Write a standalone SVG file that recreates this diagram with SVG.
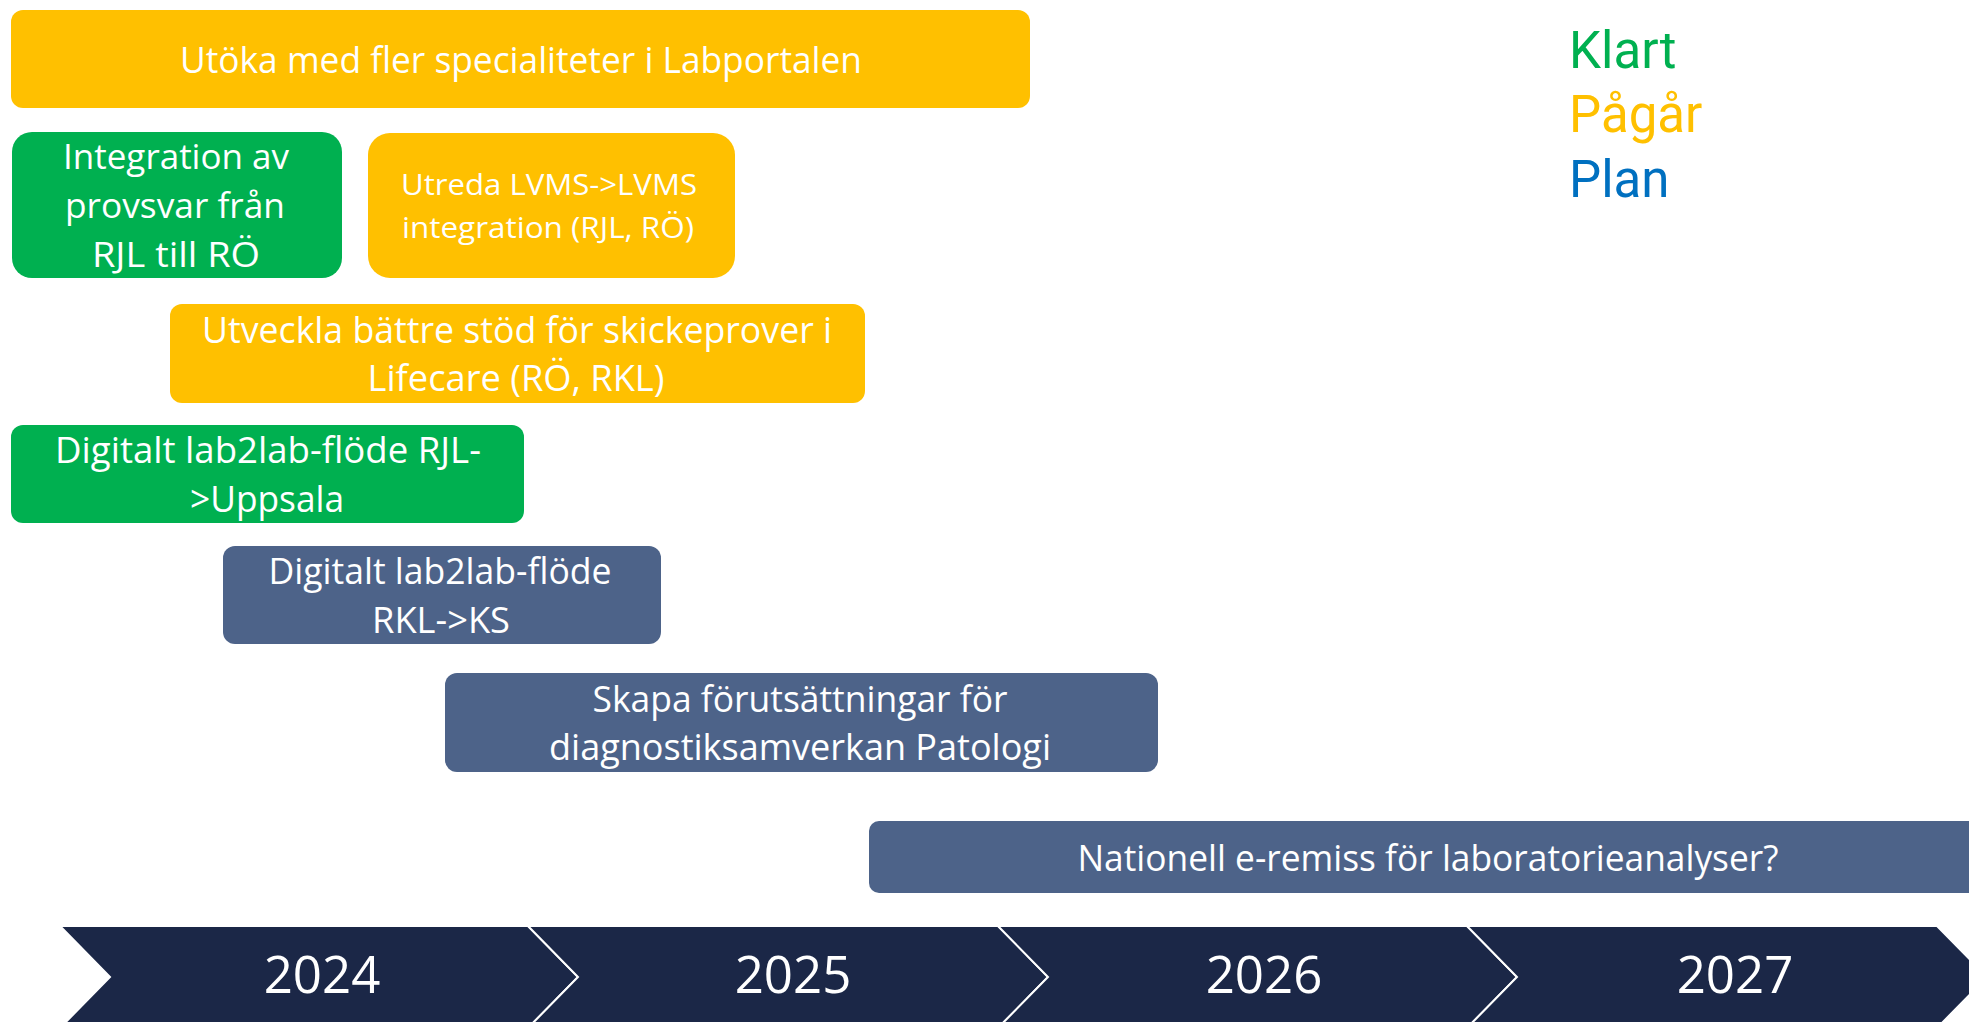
<svg xmlns="http://www.w3.org/2000/svg" width="1969" height="1022" viewBox="0 0 1969 1022">
<style>
.t{font-family:"Open Sans","Noto Sans","Liberation Sans",sans-serif;font-weight:400;fill:#FFFFFF;text-anchor:middle}
.yel{fill:#FFC000}
.grn{fill:#00B050}
.blu{fill:#4D6389}
.chev{fill:#1B2747;stroke:#FFFFFF;stroke-width:2}
.yr{font-family:"Open Sans","Noto Sans","Liberation Sans",sans-serif;font-weight:400;fill:#FFFFFF;text-anchor:middle;font-size:51px}
.lg{font-family:Roboto,"Noto Sans","Liberation Sans",sans-serif;font-size:51px}
</style>
<rect width="1969" height="1022" fill="#FFFFFF"/>

<g id="node-labportalen">
<rect class="yel" x="11" y="10" width="1019" height="98" rx="12"/>
<text class="t" x="521" y="73" font-size="36" textLength="682" lengthAdjust="spacingAndGlyphs">Utöka med fler specialiteter i Labportalen</text>
</g>

<g id="node-integration">
<rect class="grn" x="12" y="132" width="330" height="146" rx="20"/>
<text class="t" x="176" y="169" font-size="35" textLength="226" lengthAdjust="spacingAndGlyphs">Integration av</text>
<text class="t" x="175" y="218" font-size="35" textLength="220" lengthAdjust="spacingAndGlyphs">provsvar från</text>
<text class="t" x="176" y="267" font-size="35" textLength="168" lengthAdjust="spacingAndGlyphs">RJL till RÖ</text>
</g>

<g id="node-utreda">
<rect class="yel" x="368" y="133" width="367" height="145" rx="22"/>
<text class="t" x="549" y="195" font-size="30" textLength="296" lengthAdjust="spacingAndGlyphs">Utreda LVMS-&gt;LVMS</text>
<text class="t" x="548" y="238" font-size="30" textLength="292" lengthAdjust="spacingAndGlyphs">integration (RJL, RÖ)</text>
</g>

<g id="node-skickeprover">
<rect class="yel" x="170" y="304" width="695" height="99" rx="12"/>
<text class="t" x="517" y="343" font-size="36" textLength="630" lengthAdjust="spacingAndGlyphs">Utveckla bättre stöd för skickeprover i</text>
<text class="t" x="516" y="391" font-size="36" textLength="297" lengthAdjust="spacingAndGlyphs">Lifecare (RÖ, RKL)</text>
</g>

<g id="node-lab2lab-uppsala">
<rect class="grn" x="11" y="425" width="513" height="98" rx="12"/>
<text class="t" x="268" y="463" font-size="36" textLength="426" lengthAdjust="spacingAndGlyphs">Digitalt lab2lab-flöde RJL-</text>
<text class="t" x="267" y="512" font-size="36" textLength="154" lengthAdjust="spacingAndGlyphs">&gt;Uppsala</text>
</g>

<g id="node-lab2lab-ks">
<rect class="blu" x="223" y="546" width="438" height="98" rx="12"/>
<text class="t" x="440" y="584" font-size="36" textLength="343" lengthAdjust="spacingAndGlyphs">Digitalt lab2lab-flöde</text>
<text class="t" x="441" y="633" font-size="36" textLength="138" lengthAdjust="spacingAndGlyphs">RKL-&gt;KS</text>
</g>

<g id="node-patologi">
<rect class="blu" x="445" y="673" width="713" height="99" rx="12"/>
<text class="t" x="800" y="712" font-size="36" textLength="415" lengthAdjust="spacingAndGlyphs">Skapa förutsättningar för</text>
<text class="t" x="800" y="760" font-size="36" textLength="502" lengthAdjust="spacingAndGlyphs">diagnostiksamverkan Patologi</text>
</g>

<g id="node-eremiss">
<rect class="blu" x="869" y="821" width="1200" height="72" rx="10"/>
<text class="t" x="1428" y="871" font-size="36" textLength="701" lengthAdjust="spacingAndGlyphs">Nationell e-remiss för laboratorieanalyser?</text>
</g>

<g id="connectors"></g>

<g id="timeline">
<polygon class="chev" points="60,926 528,926 578,977 528,1028 60,1028 110,977"/>
<polygon class="chev" points="528,926 998,926 1048,977 998,1028 528,1028 578,977"/>
<polygon class="chev" points="998,926 1467,926 1517,977 1467,1028 998,1028 1048,977"/>
<polygon class="chev" points="1467,926 1937,926 1987,977 1937,1028 1467,1028 1517,977"/>
<text class="yr" x="322" y="993">2024</text>
<text class="yr" x="793" y="993">2025</text>
<text class="yr" x="1264" y="993">2026</text>
<text class="yr" x="1735" y="993">2027</text>
</g>

<g id="legend">
<text class="lg" x="1569" y="68" fill="#00B050">Klart</text>
<text class="lg" x="1569" y="132" fill="#FFC000">Pågår</text>
<text class="lg" x="1569" y="197" fill="#0070C0">Plan</text>
</g>
</svg>
